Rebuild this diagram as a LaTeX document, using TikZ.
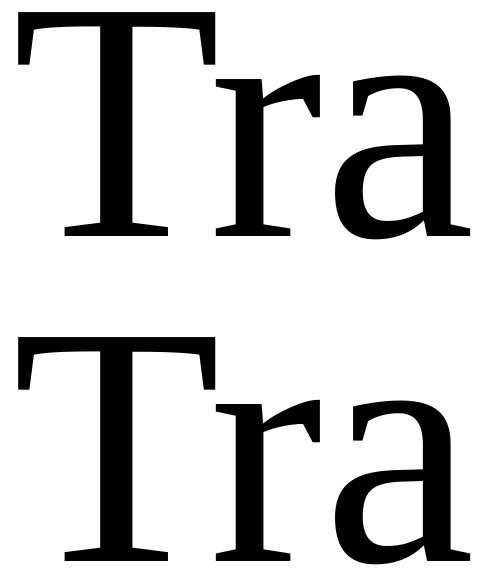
\documentclass[tikz,border=0pt]{standalone}
\usepackage{fontspec}
\setmainfont{Liberation Serif}
\begin{document}
\begin{tikzpicture}
\node[font=\fontsize{90}{100}\selectfont] (a) at (0,0) {Tra};
\node[font=\fontsize{90}{100}\rmfamily\selectfont] (b) at (0,-3) {Tra};
\end{tikzpicture}
\end{document}
